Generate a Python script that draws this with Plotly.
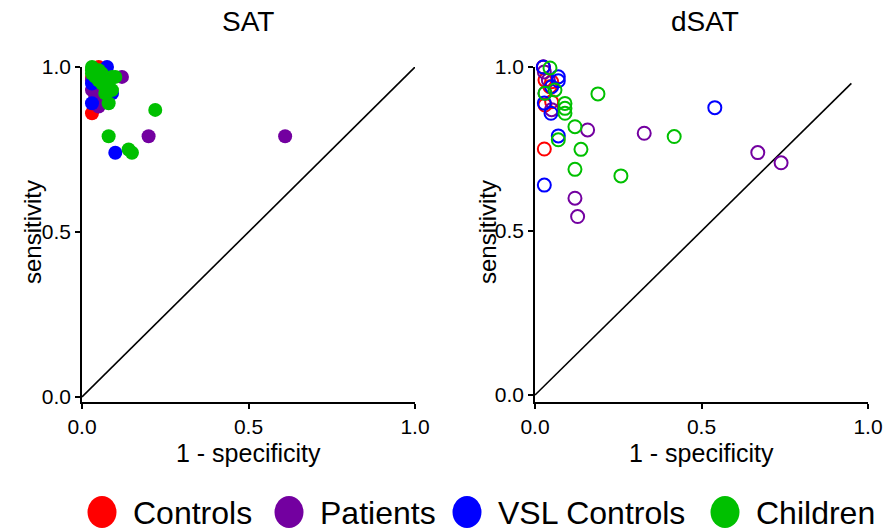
import plotly.graph_objects as go

W, H = 887, 532

groups = ["Controls", "Patients", "VSL Controls", "Children"]
colors = ["#FF0000", "#7300A0", "#0000FF", "#00C000"]

# SAT (filled) : 1 - specificity, sensitivity
sat_controls_x = [0.03, 0.05, 0.03, 0.04, 0.06]
sat_controls_y = [0.86, 1.00, 0.97, 0.95, 0.99]
sat_patients_x = [0.61, 0.20, 0.12, 0.03, 0.05, 0.05, 0.07, 0.03, 0.06, 0.04]
sat_patients_y = [0.79, 0.79, 0.97, 0.93, 0.88, 0.90, 0.92, 0.96, 0.95, 0.91]
sat_vsl_x = [0.10, 0.03, 0.075, 0.09, 0.03, 0.08, 0.06, 0.04]
sat_vsl_y = [0.74, 0.89, 1.00, 0.92, 0.95, 0.97, 0.96, 0.99]
sat_children_x = [0.22, 0.08, 0.14, 0.15, 0.08, 0.03, 0.03, 0.04, 0.05, 0.06, 0.07, 0.08, 0.09,
                  0.10, 0.05, 0.07, 0.09, 0.03, 0.06]
sat_children_y = [0.87, 0.79, 0.75, 0.74, 0.89, 1.00, 0.98, 0.97, 0.96, 0.95, 0.94, 0.96, 0.93,
                  0.97, 0.99, 0.92, 0.97, 0.99, 0.98]

# dSAT (open)
dsat_controls_x = [0.028, 0.03, 0.05, 0.03, 0.05, 0.025, 0.045]
dsat_controls_y = [0.75, 0.884, 0.894, 0.96, 0.955, 1.00, 0.94]
dsat_patients_x = [0.025, 0.028, 0.03, 0.05, 0.158, 0.328, 0.669, 0.739, 0.12, 0.128, 0.04]
dsat_patients_y = [1.00, 0.985, 0.92, 0.87, 0.808, 0.798, 0.739, 0.708, 0.60, 0.544, 0.96]
dsat_vsl_x = [0.025, 0.07, 0.07, 0.028, 0.048, 0.07, 0.028, 0.54, 0.05]
dsat_vsl_y = [1.00, 0.97, 0.958, 0.89, 0.859, 0.79, 0.64, 0.876, 0.94]
dsat_children_x = [0.045, 0.06, 0.03, 0.09, 0.09, 0.09, 0.07, 0.12, 0.189, 0.138, 0.418, 0.12, 0.258]
dsat_children_y = [0.997, 0.93, 0.92, 0.889, 0.874, 0.859, 0.778, 0.818, 0.918, 0.749, 0.788, 0.688, 0.668]

diag_sat = [0.0, 1.0]
diag_dsat = [0.0, 0.95]

ticks = [0.0, 0.5, 1.0]
tick_text = ["0.0", "0.5", "1.0"]

FONT = "Liberation Sans, Arial, sans-serif"

sat = [(sat_controls_x, sat_controls_y), (sat_patients_x, sat_patients_y),
       (sat_vsl_x, sat_vsl_y), (sat_children_x, sat_children_y)]
dsat = [(dsat_controls_x, dsat_controls_y), (dsat_patients_x, dsat_patients_y),
        (dsat_vsl_x, dsat_vsl_y), (dsat_children_x, dsat_children_y)]

fig = go.Figure()

fig.add_trace(go.Scatter(x=diag_sat, y=diag_sat, mode="lines", line=dict(color="black", width=1.6),
                         xaxis="x", yaxis="y", showlegend=False, hoverinfo="skip"))
fig.add_trace(go.Scatter(x=diag_dsat, y=diag_dsat, mode="lines", line=dict(color="black", width=1.6),
                         xaxis="x2", yaxis="y2", showlegend=False, hoverinfo="skip"))

for (xs, ys), name, c in zip(sat, groups, colors):
    fig.add_trace(go.Scatter(x=xs, y=ys, mode="markers", name=name, xaxis="x", yaxis="y",
                             marker=dict(color=c, size=14, line=dict(width=0)),
                             cliponaxis=False, showlegend=False))
for (xs, ys), name, c in zip(dsat, groups, colors):
    fig.add_trace(go.Scatter(x=xs, y=ys, mode="markers", name=name, xaxis="x2", yaxis="y2",
                             marker=dict(symbol="circle-open", color=c, size=13, line=dict(width=2, color=c)),
                             cliponaxis=False, showlegend=False))

def px_x(p):
    return p / W

def px_y(p):
    return 1 - p / H

ydom = [px_y(402), px_y(67)]
axis_common = dict(showgrid=False, zeroline=False, showline=True, linecolor="black", linewidth=1.6,
                   ticks="outside", ticklen=5, tickwidth=1.6, tickcolor="black",
                   tickvals=ticks, ticktext=tick_text, automargin=False,
                   tickfont=dict(family=FONT, size=21, color="black"))

fig.update_layout(
    width=W, height=H,
    margin=dict(l=0, r=0, t=0, b=0),
    paper_bgcolor="white", plot_bgcolor="white",
    showlegend=False,
    xaxis=dict(domain=[px_x(82), px_x(415)], range=[0, 1], anchor="y", **axis_common),
    yaxis=dict(domain=ydom, range=[-5 / 330, 1.0], anchor="x", **axis_common),
    xaxis2=dict(domain=[px_x(535), px_x(868)], range=[0, 1], anchor="y2", **axis_common),
    yaxis2=dict(domain=ydom, range=[-7 / 328, 1.0], anchor="x2", **axis_common),
)

ann = []
def add_text(t, x, y, size, angle=0, xanchor="center"):
    ann.append(dict(text=t, x=px_x(x), y=px_y(y), xref="paper", yref="paper", showarrow=False,
                    xanchor=xanchor, yanchor="middle", textangle=angle,
                    font=dict(family=FONT, size=size, color="black")))

add_text("SAT", 248, 22, 28)
add_text("dSAT", 705, 22, 28)
add_text("sensitivity", 32, 232, 24, angle=-90)
add_text("sensitivity", 487, 232, 24, angle=-90)
add_text("1 - specificity", 248, 453, 25)
add_text("1 - specificity", 701, 453, 25)

legend_centers = [102, 289, 467, 725]
shapes = []
for name, c, cx in zip(groups, colors, legend_centers):
    shapes.append(dict(type="circle", xref="paper", yref="paper", xsizemode="pixel", ysizemode="pixel",
                       xanchor=px_x(cx), yanchor=px_y(512), x0=-14.5, x1=14.5, y0=-16, y1=16,
                       fillcolor=c, line=dict(width=0)))
    add_text(name, cx + 29, 513, 32, xanchor="left")

fig.update_layout(annotations=ann, shapes=shapes)

fig.write_html("out.html")
